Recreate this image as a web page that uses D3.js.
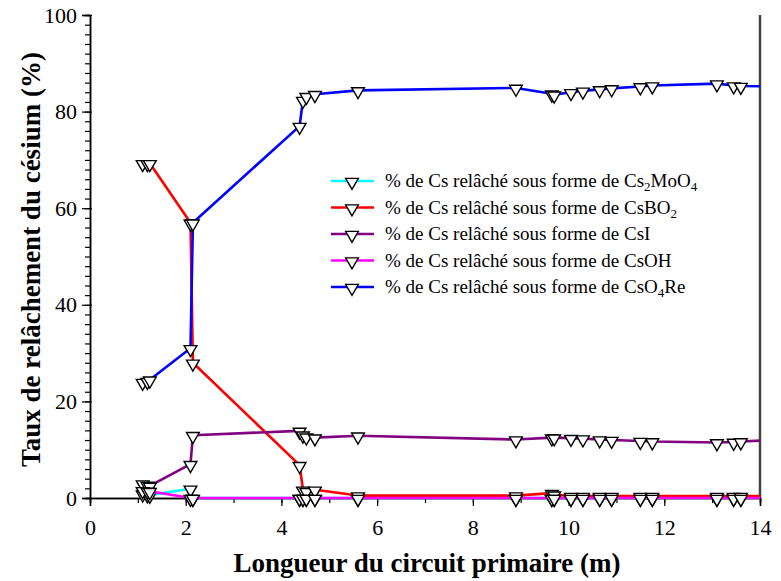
<!DOCTYPE html>
<html>
<head>
<meta charset="utf-8">
<script src="https://cdn.jsdelivr.net/npm/d3@7"></script>
<style>
  html, body { margin: 0; padding: 0; background: #fff; }
  svg { display: block; }
  text { font-family: "Liberation Serif", "Times New Roman", serif; fill: #000; }
</style>
</head>
<body>
<svg id="chart" width="781" height="581"></svg>
<script>
// Circuit length (m) at which each species' release share was sampled
const lengths = [1.1, 1.2, 1.25, 2.1, 2.15, 4.38, 4.45, 4.52, 4.7, 5.6, 8.9, 9.65, 9.7,
                 10.05, 10.3, 10.65, 10.9, 11.5, 11.75, 13.1, 13.45, 13.6, 14.5];

// Share of released caesium (%) per chemical form
const cs2moo4 = [0.9, 0.7, 0.6, 1.9, 0, 0, 0, 0, 0, 0, 0, 0, 0, 0, 0, 0, 0, 0, 0, 0, 0, 0, 0];
const csbo2   = [69.3, 69.3, 69.3, 57.0, 28.0, 6.8, 1.7, 1.4, 1.7, 0.5, 0.5, 1.0, 0.7,
                 0.4, 0.4, 0.4, 0.4, 0.4, 0.4, 0.4, 0.4, 0.4, 0.4];
const csi     = [3.0, 2.7, 2.5, 7.0, 13.0, 13.9, 13.1, 12.7, 12.5, 12.9, 12.1, 12.5, 12.5,
                 12.4, 12.3, 12.1, 12.0, 11.8, 11.7, 11.5, 11.6, 11.7, 12.1];
const csoh    = [1.6, 1.5, 1.4, 0, 0, 0, 0, 0, 0, 0, 0, 0, 0, 0, 0, 0, 0, 0, 0, 0, 0, 0, 0];
const cso4re  = [24.0, 24.2, 24.5, 31.0, 57.0, 77.0, 82.4, 83.2, 83.6, 84.4, 84.9, 83.7, 83.5,
                 84.0, 84.3, 84.6, 84.8, 85.2, 85.4, 85.8, 85.4, 85.3, 85.2];

// Legend labels: prefix followed by formula parts [text, isSubscript]
const legendPrefix = "% de Cs relâché sous forme de ";
const formulas = [
  [["Cs", false], ["2", true], ["MoO", false], ["4", true]],
  [["CsBO", false], ["2", true]],
  [["CsI", false]],
  [["CsOH", false]],
  [["CsO", false], ["4", true], ["Re", false]]
];
const seriesValues = [cs2moo4, csbo2, csi, csoh, cso4re];
const seriesColors = ["#00ffff", "#ff0000", "#800080", "#ff00ff", "#0000ff"];

const xTickValues = [0, 2, 4, 6, 8, 10, 12, 14];
const yTickValues = [0, 20, 40, 60, 80, 100];

const xTitle = "Longueur du circuit primaire (m)";
const yTitle = "Taux de relâchement du césium (%)";

// ---- layout ----
const plot = { left: 90, right: 760, top: 15, bottom: 498 };
const svg = d3.select("#chart");

const x = d3.scaleLinear().domain([0, 14]).range([plot.left, plot.right]);
const y = d3.scaleLinear().domain([0, 100]).range([plot.bottom, plot.top]);

// clip lines and markers at the left/right edges of the plotting area
svg.append("defs").append("clipPath").attr("id", "plotClip")
  .append("rect").attr("x", plot.left).attr("y", 0)
  .attr("width", plot.right - plot.left).attr("height", 581);

// ---- axes ----
const xMinor = svg.append("g").attr("transform", `translate(0,${plot.bottom})`)
  .call(d3.axisBottom(x).tickValues(d3.range(0, 15, 1)).tickSize(5).tickFormat(""));
const xMajor = svg.append("g").attr("transform", `translate(0,${plot.bottom})`)
  .call(d3.axisBottom(x).tickValues(xTickValues).tickSize(8).tickPadding(13).tickFormat(d3.format("d")));

const yMinor = svg.append("g").attr("transform", `translate(${plot.left},0)`)
  .call(d3.axisLeft(y).tickValues(d3.range(0, 101, 2)).tickSize(5).tickFormat(""));
const yMajor = svg.append("g").attr("transform", `translate(${plot.left},0)`)
  .call(d3.axisLeft(y).tickValues(yTickValues).tickSize(8).tickPadding(5).tickFormat(d3.format("d")));

[xMinor, xMajor, yMinor, yMajor].forEach(g => {
  g.select(".domain").attr("stroke", "#000").attr("stroke-width", 1.5);
  g.selectAll(".tick line").attr("stroke", "#000").attr("stroke-width", 1.2);
  g.selectAll(".tick text").style("font-family", "Liberation Serif, serif")
    .style("font-size", "22px").attr("fill", "#000");
});
// extend major y ticks a little inside the frame as well
yMajor.selectAll(".tick line").attr("x1", 2);

// right frame line
svg.append("line")
  .attr("x1", plot.right).attr("x2", plot.right)
  .attr("y1", plot.top).attr("y2", plot.bottom)
  .attr("stroke", "#444").attr("stroke-width", 2.5);

// ---- titles ----
svg.append("text")
  .attr("x", (plot.left + plot.right) / 2 + 2).attr("y", 572)
  .attr("text-anchor", "middle")
  .style("font-size", "27px").style("font-weight", "bold")
  .text(xTitle);

svg.append("text")
  .attr("transform", `translate(40,${(plot.top + plot.bottom) / 2 + 3}) rotate(-90)`)
  .attr("text-anchor", "middle")
  .style("font-size", "27px").style("font-weight", "bold")
  .text(yTitle);

// ---- series ----
const triangle = d3.symbol().type(d3.symbolTriangle).size(70);
const marks = svg.append("g").attr("clip-path", "url(#plotClip)");
const line = d3.line().x((d, i) => x(lengths[i])).y(d => y(d));

seriesValues.forEach((vals, s) => {
  const g = marks.append("g");
  g.append("path")
    .datum(vals)
    .attr("d", line)
    .attr("fill", "none")
    .attr("stroke", seriesColors[s])
    .attr("stroke-width", 2.6)
    .attr("stroke-linejoin", "round");
  g.selectAll("path.pt")
    .data(vals)
    .join("path")
    .attr("class", "pt")
    .attr("d", triangle)
    .attr("transform", (d, i) => `translate(${x(lengths[i])},${y(d) + 1}) rotate(180)`)
    .attr("fill", "#fff")
    .attr("stroke", "#000")
    .attr("stroke-width", 1.4);
});

// ---- legend ----
const legend = svg.append("g");
formulas.forEach((parts, s) => {
  const ly = 181 + s * 26.5;
  legend.append("line")
    .attr("x1", 331).attr("x2", 374).attr("y1", ly).attr("y2", ly)
    .attr("stroke", seriesColors[s]).attr("stroke-width", 2.6);
  legend.append("path")
    .attr("d", triangle)
    .attr("transform", `translate(352,${ly + 1}) rotate(180)`)
    .attr("fill", "#fff").attr("stroke", "#000").attr("stroke-width", 1.4);
  const t = legend.append("text")
    .attr("x", 385).attr("y", ly + 6)
    .style("font-size", "19px");
  t.append("tspan").text(legendPrefix);
  let lowered = false;
  parts.forEach(([txt, sub]) => {
    const span = t.append("tspan").text(txt);
    if (sub && !lowered) { span.attr("dy", 4); lowered = true; }
    else if (!sub && lowered) { span.attr("dy", -4); lowered = false; }
    if (sub) span.style("font-size", "13px");
  });
});
</script>
</body>
</html>
